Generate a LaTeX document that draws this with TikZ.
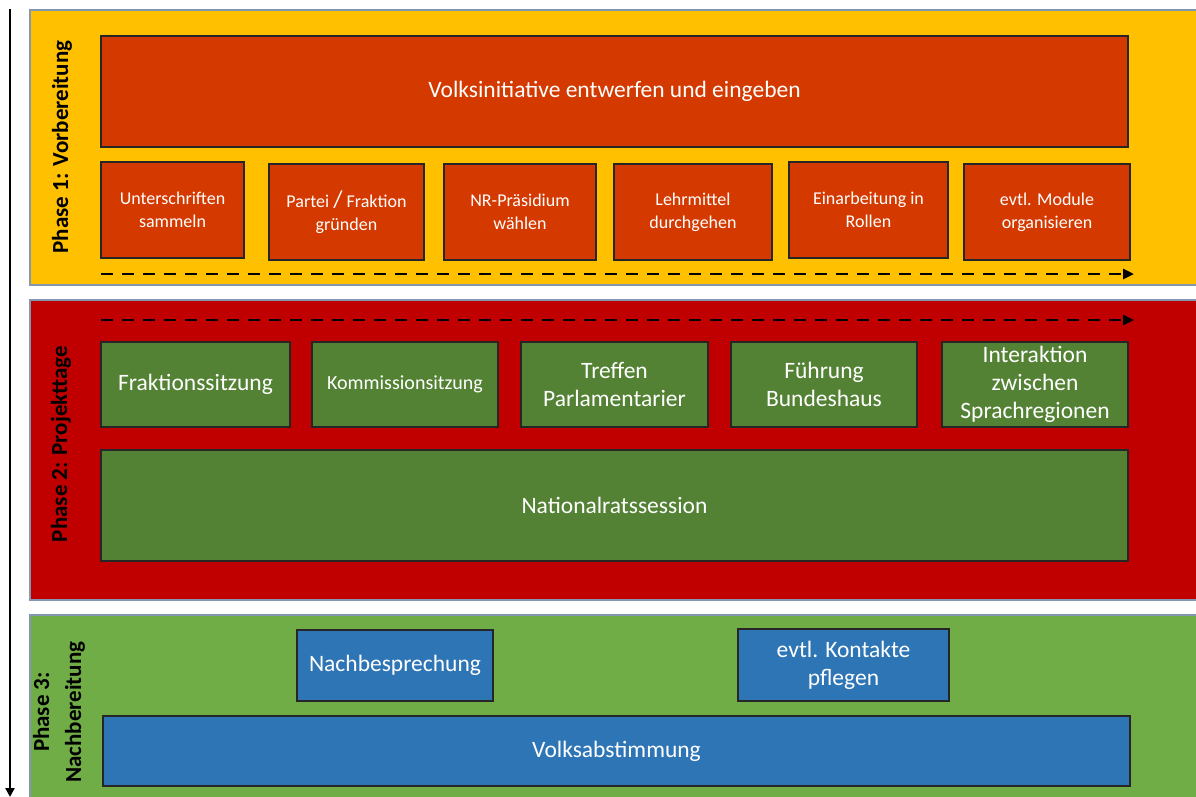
\documentclass[tikz,border=0pt]{standalone}
\usepackage{fontspec}
\setmainfont{Carlito}
\usepackage{tikz}
\usetikzlibrary{arrows.meta}

\definecolor{phaseyellow}{HTML}{FFC000}
\definecolor{phasered}{HTML}{C00000}
\definecolor{phasegreen}{HTML}{70AD47}
\definecolor{taskorange}{HTML}{D43A00}
\definecolor{taskgreen}{HTML}{548235}
\definecolor{taskblue}{HTML}{2E75B6}
\definecolor{phaseline}{HTML}{8497B0}

\begin{document}
\begin{tikzpicture}[x=1pt, y=-1pt,
    phasebox/.style={draw=phaseline, line width=1.2pt},
    task/.style={draw=black!85, line width=1.1pt, text=white, align=center, inner sep=0pt},
    small/.style={font=\fontsize{18}{23}\selectfont},
    large/.style={font=\fontsize{23.5}{28}\selectfont},
    phaselabel/.style={rotate=90, align=center, font=\bfseries\fontsize{23}{32}\selectfont},
    flow/.style={line width=2.8pt, dash pattern=on 12pt off 9pt, -{Triangle[length=11pt, width=10pt]}}]
    \useasboundingbox (0,0) rectangle (1196,796);
    % phases
    \fill[phaseyellow, phasebox] (30,10) rectangle (1200,285);
    \fill[phasered, phasebox] (30,300) rectangle (1200,600);
    \fill[phasegreen, phasebox] (30,615) rectangle (1200,800);
    % time axis
    \coordinate (T0) at (10,9);
    \coordinate (T1) at (10,797);
    \draw[line width=2.4pt, -{Triangle[length=9pt, width=9pt]}] (T0) -- (T1);
    \node[phaselabel] (L1) at (62,147) {Phase 1: Vorbereitung};
    \node[phaselabel] (L2) at (61,444) {Phase 2: Projekttage};
    \node[phaselabel] (L3) at (59,712) {Phase 3:\\Nachbereitung};

    % phase 1
    \node[task, large, fill=taskorange, minimum width=1027pt, minimum height=111pt] (V1) at (614.5,91.5) {\raisebox{-3pt}{Volksinitiative entwerfen und eingeben}};
    \node[task, small, fill=taskorange, minimum width=143pt, minimum height=96pt] (A1) at (172.5,210) {Unterschriften\\sammeln};
    \node[task, small, fill=taskorange, minimum width=155pt, minimum height=96pt] (A2) at (346.5,212) {Partei {\fontsize{24}{23}\selectfont/} Fraktion\\gründen};
    \node[task, small, fill=taskorange, minimum width=152pt, minimum height=96pt] (A3) at (520,212) {NR-Präsidium\\wählen};
    \node[task, small, fill=taskorange, minimum width=158pt, minimum height=96pt] (A4) at (693,212) {Lehrmittel\\durchgehen};
    \node[task, small, fill=taskorange, minimum width=159pt, minimum height=96pt] (A5) at (868.5,210) {Einarbeitung in\\Rollen};
    \node[task, small, fill=taskorange, minimum width=166pt, minimum height=96pt] (A6) at (1047,212) {evtl. Module\\organisieren};
    \coordinate (F1a) at (101,274);
    \coordinate (F1b) at (1134,274);
    \draw[flow] (F1a) -- (F1b);

    % phase 2
    \coordinate (F2a) at (101,320);
    \coordinate (F2b) at (1134,320);
    \draw[flow] (F2a) -- (F2b);
    \node[task, large, fill=taskgreen, minimum width=189pt, minimum height=85pt] (B1) at (195.5,384.5) {\raisebox{-2pt}{Fraktionssitzung}};
    \node[task, font=\fontsize{20}{24}\selectfont, fill=taskgreen, minimum width=186pt, minimum height=85pt] (B2) at (405,384.5) {\raisebox{-2pt}{Kommissionsitzung}};
    \node[task, large, fill=taskgreen, minimum width=187pt, minimum height=85pt] (B3) at (614.5,384.5) {Treffen\\Parlamentarier};
    \node[task, large, fill=taskgreen, minimum width=186pt, minimum height=85pt] (B4) at (824,384.5) {Führung\\Bundeshaus};
    \node[task, large, fill=taskgreen, minimum width=186pt, minimum height=85pt] (B5) at (1035,384.5) {Interaktion\\zwischen\\Sprachregionen};
    \node[task, large, fill=taskgreen, minimum width=1027pt, minimum height=111pt] (N1) at (614.5,505.5) {Nationalratssession};

    % phase 3
    \node[task, large, fill=taskblue, minimum width=196pt, minimum height=71pt] (C1) at (395,665.5) {\raisebox{-2pt}{Nachbesprechung}};
    \node[task, large, fill=taskblue, minimum width=211pt, minimum height=72pt] (C2) at (843.5,665) {evtl. Kontakte\\pflegen};
    \node[task, large, fill=taskblue, minimum width=1027pt, minimum height=70pt] (V2) at (616.5,751) {\raisebox{-2pt}{Volksabstimmung}};
\end{tikzpicture}
\end{document}
